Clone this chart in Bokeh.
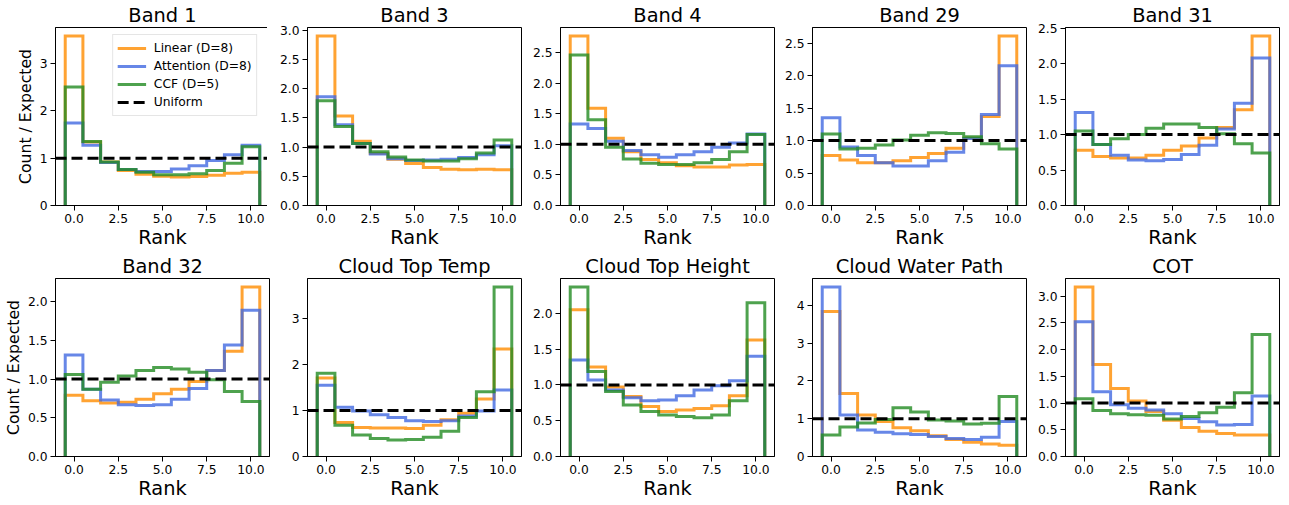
import numpy as np
from bokeh.plotting import figure
from bokeh.layouts import gridplot
from bokeh.models import (Range1d, Legend, LegendItem, FixedTicker,
                          PrintfTickFormatter)
from bokeh.embed import file_html
from bokeh.resources import INLINE

# ------------------------------------------------------------------ data
ranks = list(range(11))
bin_edges = [r - 0.5 for r in ranks] + [ranks[-1] + 0.5]
x_ticks = [0.0, 2.5, 5.0, 7.5, 10.0]
uniform_level = 1.0
series_labels = ["Linear (D=8)", "Attention (D=8)", "CCF (D=5)"]
uniform_label = "Uniform"
x_label = "Rank"
y_label = "Count / Expected"

band1_linear    = [3.58, 1.34, 0.92, 0.74, 0.66, 0.62, 0.60, 0.61, 0.64, 0.68, 0.70]
band1_attention = [1.74, 1.27, 0.91, 0.76, 0.72, 0.72, 0.77, 0.84, 0.95, 1.07, 1.27]
band1_ccf       = [2.50, 1.35, 0.92, 0.76, 0.70, 0.65, 0.65, 0.67, 0.74, 0.89, 1.24]
band1_yticks    = [0, 1, 2, 3]

band3_linear    = [2.90, 1.53, 1.10, 0.89, 0.79, 0.72, 0.65, 0.62, 0.61, 0.62, 0.61]
band3_attention = [1.86, 1.38, 1.06, 0.88, 0.80, 0.77, 0.78, 0.79, 0.82, 0.87, 1.02]
band3_ccf       = [1.79, 1.35, 1.06, 0.92, 0.83, 0.78, 0.76, 0.76, 0.80, 0.90, 1.12]
band3_yticks    = [0.0, 0.5, 1.0, 1.5, 2.0, 2.5, 3.0]

band4_linear    = [2.77, 1.59, 1.10, 0.88, 0.75, 0.70, 0.65, 0.63, 0.63, 0.66, 0.67]
band4_attention = [1.33, 1.26, 1.05, 0.90, 0.83, 0.79, 0.83, 0.88, 0.95, 1.02, 1.17]
band4_ccf       = [2.46, 1.40, 0.95, 0.76, 0.69, 0.67, 0.67, 0.70, 0.75, 0.88, 1.16]
band4_yticks    = [0.0, 0.5, 1.0, 1.5, 2.0, 2.5]

band29_linear    = [0.77, 0.70, 0.66, 0.66, 0.69, 0.74, 0.80, 0.88, 1.04, 1.37, 2.61]
band29_attention = [1.35, 0.90, 0.77, 0.66, 0.61, 0.61, 0.69, 0.82, 1.03, 1.40, 2.15]
band29_ccf       = [1.10, 0.87, 0.88, 0.93, 1.01, 1.08, 1.12, 1.11, 1.06, 0.95, 0.87]
band29_yticks    = [0.0, 0.5, 1.0, 1.5, 2.0, 2.5]

band31_linear    = [0.78, 0.69, 0.67, 0.67, 0.71, 0.78, 0.84, 0.95, 1.10, 1.35, 2.39]
band31_attention = [1.31, 0.86, 0.71, 0.64, 0.63, 0.65, 0.72, 0.85, 1.08, 1.44, 2.08]
band31_ccf       = [1.05, 0.86, 0.94, 1.00, 1.09, 1.15, 1.15, 1.10, 1.01, 0.87, 0.74]
band31_yticks    = [0.0, 0.5, 1.0, 1.5, 2.0, 2.5]

band32_linear    = [0.79, 0.72, 0.69, 0.70, 0.74, 0.81, 0.87, 0.97, 1.11, 1.36, 2.19]
band32_attention = [1.31, 0.87, 0.73, 0.67, 0.66, 0.67, 0.74, 0.88, 1.11, 1.44, 1.89]
band32_ccf       = [1.06, 0.87, 0.96, 1.04, 1.11, 1.15, 1.13, 1.09, 0.99, 0.84, 0.71]
band32_yticks    = [0.0, 0.5, 1.0, 1.5, 2.0]

ctt_linear    = [1.71, 0.74, 0.63, 0.62, 0.62, 0.61, 0.68, 0.80, 0.94, 1.25, 2.34]
ctt_attention = [1.55, 1.07, 0.99, 0.91, 0.85, 0.78, 0.76, 0.78, 0.88, 0.99, 1.45]
ctt_ccf       = [1.81, 0.68, 0.47, 0.39, 0.36, 0.37, 0.42, 0.55, 0.85, 1.41, 3.69]
ctt_yticks    = [0, 1, 2, 3]

cth_linear    = [2.05, 1.25, 0.97, 0.84, 0.70, 0.63, 0.65, 0.67, 0.71, 0.85, 1.63]
cth_attention = [1.35, 1.07, 0.93, 0.82, 0.78, 0.79, 0.85, 0.93, 0.99, 1.06, 1.40]
cth_ccf       = [2.37, 1.19, 0.91, 0.72, 0.63, 0.58, 0.56, 0.54, 0.58, 0.78, 2.15]
cth_yticks    = [0.0, 0.5, 1.0, 1.5, 2.0]

cwp_linear    = [3.84, 1.67, 1.10, 0.93, 0.76, 0.68, 0.55, 0.45, 0.38, 0.33, 0.30]
cwp_attention = [4.49, 1.10, 0.70, 0.64, 0.60, 0.58, 0.53, 0.48, 0.45, 0.51, 0.93]
cwp_ccf       = [0.57, 0.78, 0.89, 0.98, 1.29, 1.18, 0.97, 0.94, 0.86, 0.88, 1.59]
cwp_yticks    = [0, 1, 2, 3, 4]

cot_linear    = [3.17, 1.72, 1.27, 1.04, 0.84, 0.68, 0.54, 0.47, 0.43, 0.40, 0.40]
cot_attention = [2.52, 1.21, 0.97, 0.90, 0.87, 0.80, 0.71, 0.65, 0.59, 0.60, 1.13]
cot_ccf       = [1.08, 0.86, 0.80, 0.78, 0.77, 0.70, 0.75, 0.82, 0.92, 1.19, 2.28]
cot_yticks    = [0.0, 0.5, 1.0, 1.5, 2.0, 2.5, 3.0]

panels = [
    ("Band 1", band1_linear, band1_attention, band1_ccf, band1_yticks),
    ("Band 3", band3_linear, band3_attention, band3_ccf, band3_yticks),
    ("Band 4", band4_linear, band4_attention, band4_ccf, band4_yticks),
    ("Band 29", band29_linear, band29_attention, band29_ccf, band29_yticks),
    ("Band 31", band31_linear, band31_attention, band31_ccf, band31_yticks),
    ("Band 32", band32_linear, band32_attention, band32_ccf, band32_yticks),
    ("Cloud Top Temp", ctt_linear, ctt_attention, ctt_ccf, ctt_yticks),
    ("Cloud Top Height", cth_linear, cth_attention, cth_ccf, cth_yticks),
    ("Cloud Water Path", cwp_linear, cwp_attention, cwp_ccf, cwp_yticks),
    ("COT", cot_linear, cot_attention, cot_ccf, cot_yticks),
]

# ------------------------------------------------------------------ style
colors = ["darkorange", "royalblue", "forestgreen"]
LINE_ALPHA = 0.8
LINE_W = 3
FONT = "DejaVu Sans"
FW, FH = 214, 178
LEFT = [48, 33, 34, 33, 34]
RIGHT = [5, 5, 5, 5, 1]
TOP = [22, 25]
BOTTOM = [43, 43]

edges = np.array(bin_edges, dtype=float)
span_x = edges[-1] - edges[0]
x_lo, x_hi = edges[0] - 0.05 * span_x, edges[-1] + 0.05 * span_x


def step_coords(values):
    v = np.asarray(values, dtype=float)
    xs = np.repeat(edges, 2)
    ys = np.concatenate([[0.0], np.repeat(v, 2), [0.0]])
    return xs, ys


def style_axis(ax):
    ax.axis_line_color = "black"
    ax.axis_line_width = 1
    ax.major_tick_line_color = "black"
    ax.major_tick_line_width = 1
    ax.major_tick_out = 5
    ax.major_tick_in = 0
    ax.minor_tick_line_color = None
    ax.major_label_text_font = FONT
    ax.major_label_text_font_size = "12.3px"
    ax.major_label_text_color = "black"
    ax.major_label_standoff = 3
    ax.axis_label_text_color = "black"
    ax.axis_label_text_font = FONT
    ax.axis_label_text_font_style = "normal"


figs = []
for i, (title, lin, att, ccf, yt) in enumerate(panels):
    r, c = divmod(i, 5)
    ymax = 1.05 * max(max(lin), max(att), max(ccf))
    p = figure(frame_width=FW, frame_height=FH,
               x_range=Range1d(x_lo, x_hi), y_range=Range1d(0, ymax),
               output_backend="svg", toolbar_location=None,
               min_border_left=LEFT[c], min_border_right=RIGHT[c],
               min_border_top=TOP[r], min_border_bottom=BOTTOM[r],
               background_fill_color="white", border_fill_color="white")
    p.title.text = title
    p.title.align = "center"
    p.title.text_font = FONT
    p.title.text_font_size = "19.4px"
    p.title.text_font_style = "normal"
    p.title.text_color = "black"
    p.title.standoff = 2
    p.grid.visible = False
    p.outline_line_color = "black"
    p.outline_line_width = 1
    p.outline_line_alpha = 1

    style_axis(p.xaxis[0])
    style_axis(p.yaxis[0])
    p.xaxis.ticker = FixedTicker(ticks=x_ticks)
    p.xaxis.formatter = PrintfTickFormatter(format="%.1f")
    p.xaxis.axis_label = x_label
    p.xaxis.axis_label_text_font_size = "19.4px"
    p.xaxis.axis_label_standoff = 0
    p.yaxis.ticker = FixedTicker(ticks=yt)
    is_int = all(float(t).is_integer() for t in yt)
    p.yaxis.formatter = PrintfTickFormatter(format="%d" if is_int else "%.1f")
    if c == 0:
        p.yaxis.axis_label = y_label
        p.yaxis.axis_label_text_font_size = "15.7px"
        p.yaxis.axis_label_standoff = 2

    rends = []
    for vals, col in zip([lin, att, ccf], colors):
        xs, ys = step_coords(vals)
        rr = p.line(xs, ys, line_color=col, line_alpha=LINE_ALPHA,
                    line_width=LINE_W, line_join="miter")
        rends.append(rr)

    # uniform reference level across the whole axis
    uni = p.line([x_lo, x_hi], [uniform_level, uniform_level],
                 line_color="black", line_width=LINE_W, line_dash="11 5")

    if i == 0:
        items = [LegendItem(label=lab, renderers=[rr])
                 for lab, rr in zip(series_labels, rends)]
        items.append(LegendItem(label=uniform_label, renderers=[uni]))
        leg = Legend(items=items, location="top_right",
                     label_text_font=FONT, label_text_font_size="12.3px",
                     label_text_color="black",
                     glyph_width=29, glyph_height=18, label_height=18,
                     label_standoff=8, spacing=0, padding=4, margin=7,
                     border_line_color="#cccccc", border_line_width=1,
                     background_fill_color="white", background_fill_alpha=0.8)
        p.add_layout(leg)
    figs.append(p)

grid = gridplot([figs[:5], figs[5:]], toolbar_location=None)

with open("out.html", "w") as f:
    f.write(file_html(grid, INLINE))
